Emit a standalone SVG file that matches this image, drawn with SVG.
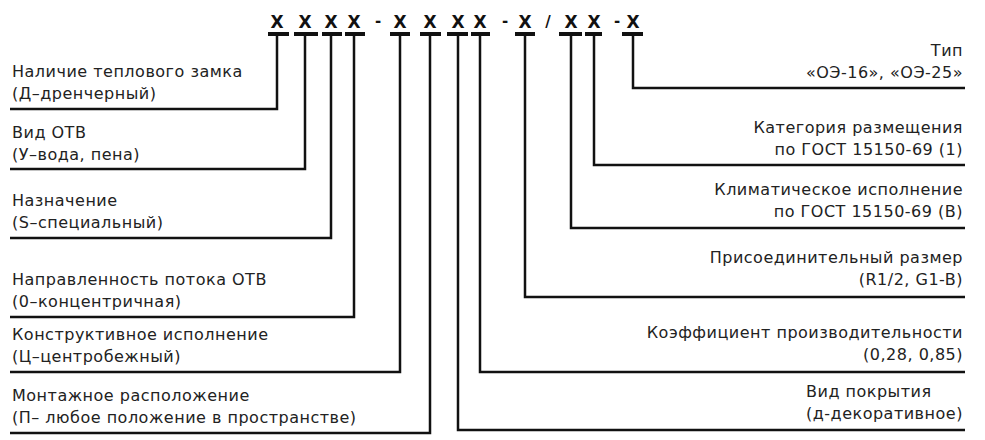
<svg xmlns="http://www.w3.org/2000/svg" width="985" height="440" viewBox="0 0 985 440">
  <style>
    .bg { fill: #ffffff; }
    .code { font-family: "DejaVu Sans", "Liberation Sans", sans-serif; font-size: 17px; font-weight: bold; fill: #111; text-anchor: middle; }
    .sep { font-family: "DejaVu Sans", "Liberation Sans", sans-serif; font-size: 15px; font-weight: bold; fill: #111; text-anchor: middle; }
    .bar { stroke: #111; stroke-width: 4; fill: none; }
    .wire { stroke: #111; stroke-width: 2.5; fill: none; stroke-linejoin: miter; }
    .lbl { font-family: "DejaVu Sans", "Liberation Sans", sans-serif; font-size: 16px; letter-spacing: 0.5px; fill: #222; }
    .lbl.r { text-anchor: end; }
  </style>
  <rect class="bg" x="0" y="0" width="985" height="440"/>

  <!-- code positions -->
  <g id="code">
    <text class="code" x="277" y="28">X</text>
    <text class="code" x="305" y="28">X</text>
    <text class="code" x="331" y="28">X</text>
    <text class="code" x="354" y="28">X</text>
    <text class="sep" x="378" y="26">-</text>
    <text class="code" x="400" y="28">X</text>
    <text class="code" x="430" y="28">X</text>
    <text class="code" x="458" y="28">X</text>
    <text class="code" x="480" y="28">X</text>
    <text class="sep" x="505" y="26">-</text>
    <text class="code" x="525" y="28">X</text>
    <text class="sep" x="548" y="27">/</text>
    <text class="code" x="571" y="28">X</text>
    <text class="code" x="594" y="28">X</text>
    <text class="sep" x="617" y="26">-</text>
    <text class="code" x="633" y="28">X</text>
  </g>

  <!-- connectors: a bar under each position, then a leader to its label -->
  <g id="connectors">
    <path class="bar" d="M268 34H289 M294 34H318 M322 34H342 M345 34H365 M390 34H410 M420 34H441 M447 34H468 M471 34H490 M515 34H535 M559 34H582 M585 34H602 M622 34H643"/>
    <path class="wire" d="M277 34V109H10"/>
    <path class="wire" d="M305 34V169H10"/>
    <path class="wire" d="M331 34V238H10"/>
    <path class="wire" d="M354 34V317H10"/>
    <path class="wire" d="M400 34V372H10"/>
    <path class="wire" d="M430 34V433H10"/>
    <path class="wire" d="M458 34V430H965"/>
    <path class="wire" d="M480 34V372H965"/>
    <path class="wire" d="M525 34V297H965"/>
    <path class="wire" d="M571 34V228H965"/>
    <path class="wire" d="M594 34V165H965"/>
    <path class="wire" d="M633 34V88H965"/>
  </g>

  <g id="n-zamok">
    <text class="lbl" x="12" y="77">Наличие теплового замка</text>
    <text class="lbl" x="12" y="99">(Д–дренчерный)</text>
  </g>
  <g id="n-vid-otv">
    <text class="lbl" x="12" y="138">Вид ОТВ</text>
    <text class="lbl" x="12" y="160">(У–вода, пена)</text>
  </g>
  <g id="n-naznachenie">
    <text class="lbl" x="12" y="206">Назначение</text>
    <text class="lbl" x="12" y="228">(S–специальный)</text>
  </g>
  <g id="n-napravlennost">
    <text class="lbl" x="12" y="285">Направленность потока ОТВ</text>
    <text class="lbl" x="12" y="307">(0–концентричная)</text>
  </g>
  <g id="n-konstr">
    <text class="lbl" x="12" y="340">Конструктивное исполнение</text>
    <text class="lbl" x="12" y="362">(Ц–центробежный)</text>
  </g>
  <g id="n-montazh">
    <text class="lbl" x="12" y="401">Монтажное расположение</text>
    <text class="lbl" x="12" y="423">(П– любое положение в пространстве)</text>
  </g>

  <g id="n-tip">
    <text class="lbl r" x="963" y="56">Тип</text>
    <text class="lbl r" x="963" y="78">«ОЭ-16», «ОЭ-25»</text>
  </g>
  <g id="n-kategoriya">
    <text class="lbl r" x="963" y="133">Категория размещения</text>
    <text class="lbl r" x="963" y="155">по ГОСТ 15150-69 (1)</text>
  </g>
  <g id="n-klimat">
    <text class="lbl r" x="963" y="195">Климатическое исполнение</text>
    <text class="lbl r" x="963" y="217">по ГОСТ 15150-69 (В)</text>
  </g>
  <g id="n-prisoed">
    <text class="lbl r" x="963" y="263">Присоединительный размер</text>
    <text class="lbl r" x="963" y="285">(R1/2, G1-B)</text>
  </g>
  <g id="n-koef">
    <text class="lbl r" x="963" y="338">Коэффициент производительности</text>
    <text class="lbl r" x="963" y="360">(0,28, 0,85)</text>
  </g>
  <g id="n-pokrytie">
    <text class="lbl" x="806" y="397">Вид покрытия</text>
    <text class="lbl" x="806" y="419">(д-декоративное)</text>
  </g>
</svg>
